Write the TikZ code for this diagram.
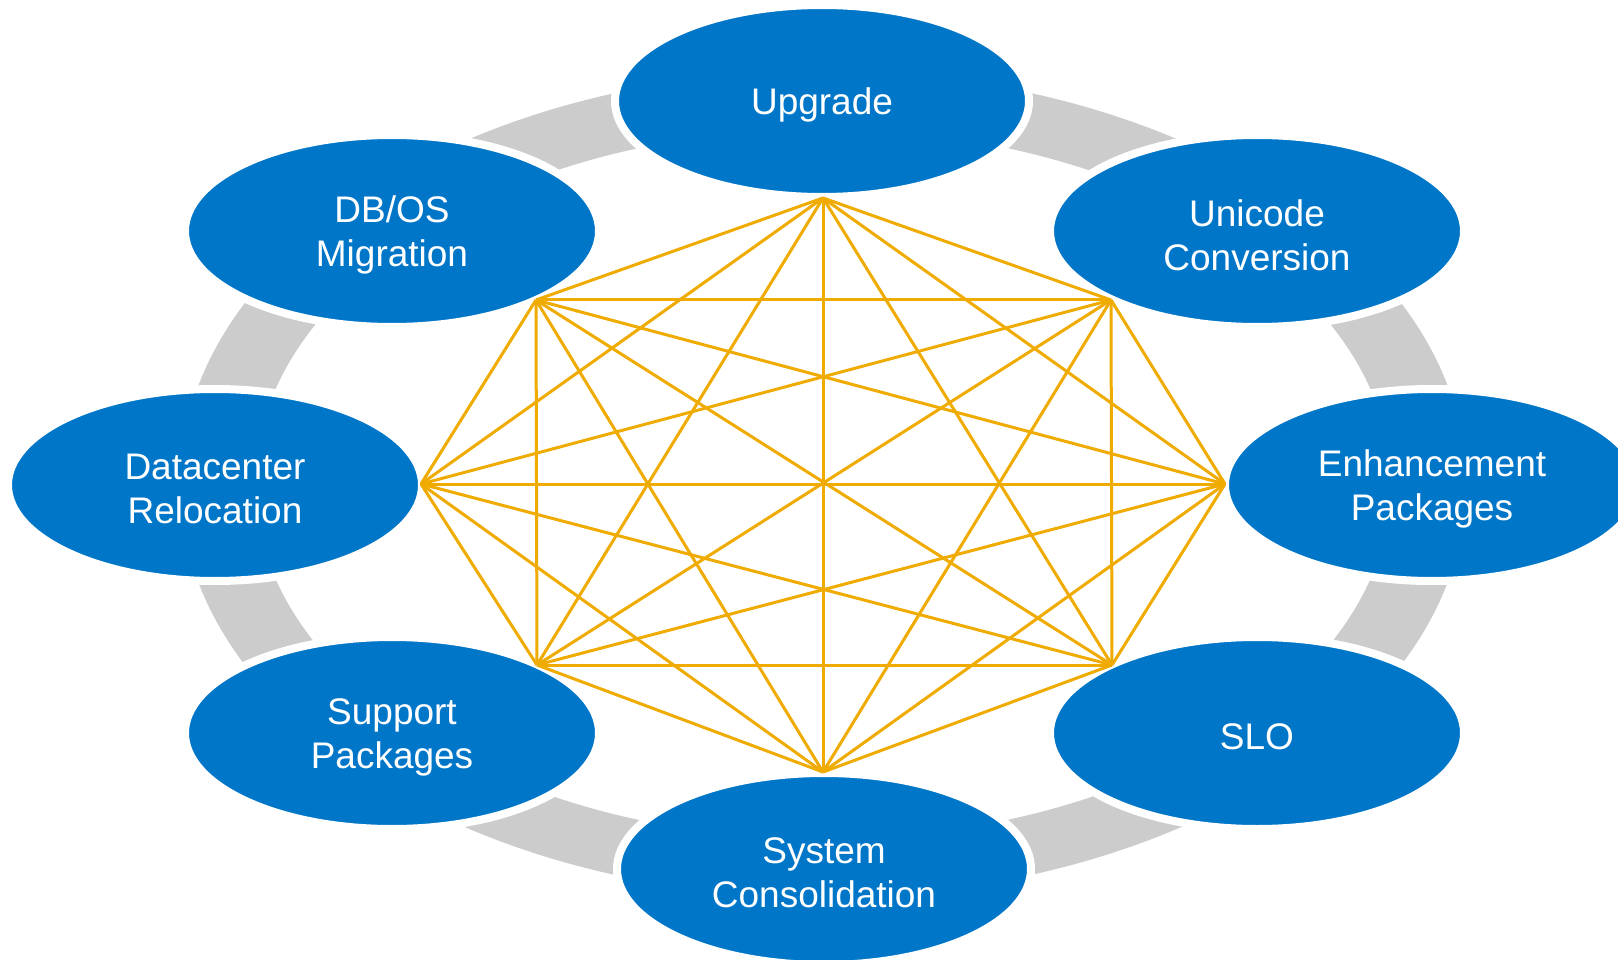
\documentclass[tikz,border=0pt]{standalone}
\usepackage{fontspec}
\setmainfont{Liberation Sans}
\usetikzlibrary{shapes.geometric}
\definecolor{sapblue}{RGB}{0,118,201}
\definecolor{ringgray}{RGB}{204,204,204}
\definecolor{gold}{RGB}{240,171,0}
\begin{document}
\begin{tikzpicture}[x=1pt,y=-1pt,
  oval/.style={ellipse, fill=sapblue, draw=white, line width=8pt,
    minimum width=414pt, minimum height=192pt, inner sep=0pt},
  lbl/.style={text=white, align=center, inner sep=0pt, yshift=-4pt,
    font=\fontsize{37}{44}\selectfont},
  goldline/.style={draw=gold, line width=3pt, line join=round}]
\useasboundingbox (0,0) rectangle (1618,960);
\fill[white] (0,0) rectangle (1618,960);
% gray ring
\fill[ringgray, even odd rule] (823,484) ellipse [x radius=643pt, y radius=413pt]
  (823,484) ellipse [x radius=568pt, y radius=355pt];
% ellipses
\node[oval, label={[lbl]center:Upgrade}] (upgrade) at (822,101) {};
\node[oval, label={[lbl]center:DB/OS\\Migration}] (dbos) at (392,231) {};
\node[oval, label={[lbl]center:Unicode\\Conversion}] (unicode) at (1257,231) {};
\node[oval, label={[lbl]center:Datacenter\\Relocation}] (dc) at (215,485) {};
\node[oval, label={[lbl]center:Enhancement\\Packages}] (ehp) at (1432,485) {};
\node[oval, label={[lbl]center:Support\\Packages}] (sp) at (392,733) {};
\node[oval, label={[lbl]center:SLO}] (slo) at (1257,733) {};
\node[oval, label={[lbl]center:System\\Consolidation}] (sc) at (824,869) {};
% octagon vertices
\coordinate (v1) at (823,198);
\coordinate (v2) at (1111,300);
\coordinate (v3) at (1225,484);
\coordinate (v4) at (1112,665);
\coordinate (v5) at (823,772);
\coordinate (v6) at (537,665);
\coordinate (v7) at (421,484);
\coordinate (v8) at (536,300);
\foreach \i in {1,...,7} {
  \pgfmathtruncatemacro\s{\i+1}
  \foreach \j in {\s,...,8} {
    \draw[goldline] (v\i) -- (v\j);
  }
}
\end{tikzpicture}
\end{document}
